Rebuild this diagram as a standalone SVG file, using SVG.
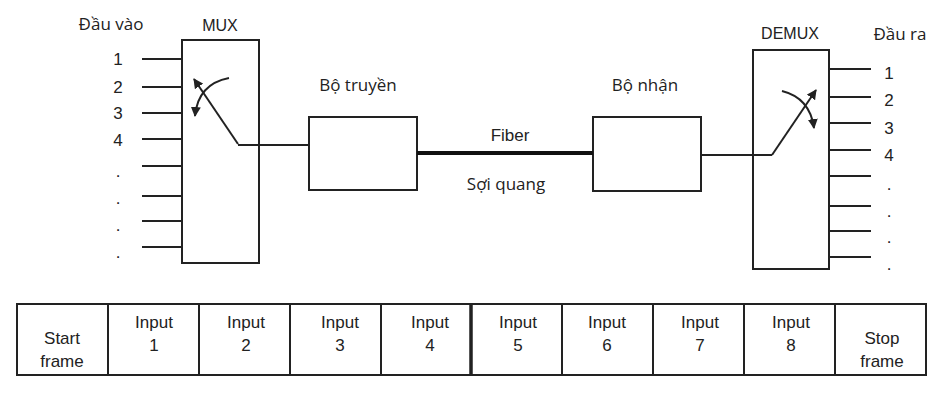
<svg xmlns="http://www.w3.org/2000/svg" width="944" height="395" viewBox="0 0 944 395">
<style>
.box{fill:#fff;stroke:#222;stroke-width:2}
.ln{fill:none;stroke:#222;stroke-width:2}
.lbl{font-family:"Open Sans","Noto Sans",sans-serif;font-size:17px;fill:#222;text-anchor:middle;dominant-baseline:central}
.num{font-family:"Liberation Sans",Arial,sans-serif;font-size:16px;fill:#222;text-anchor:middle;dominant-baseline:central}
.dig{font-family:"Liberation Sans",Arial,sans-serif;font-size:17px;fill:#222;text-anchor:middle;dominant-baseline:central}
.cell{font-family:"Liberation Sans",Arial,sans-serif;font-size:17px;fill:#222;text-anchor:middle;dominant-baseline:central}
</style>
<defs>
<marker id="ah" viewBox="0 0 10 10" refX="9" refY="5" markerWidth="5" markerHeight="5" orient="auto" markerUnits="strokeWidth">
<path d="M0,0 L10,5 L0,10 Z" fill="#222"/>
</marker>
</defs>
<rect width="944" height="395" fill="#fff"/>

<g id="mux">
<rect class="box" x="182" y="40" width="77" height="223"/>
<text class="num" x="220" y="25">MUX</text>
<text class="lbl" x="111" y="23">Đầu vào</text>
<path class="ln" d="M142,59H182M142,87H182M142,113H182M142,139H182M142,166H182M142,196H182M142,221H182M142,247H182"/>
<text class="dig" x="118" y="59">1</text>
<text class="dig" x="118" y="87">2</text>
<text class="dig" x="118" y="113">3</text>
<text class="dig" x="118" y="140">4</text>
<text class="dig" x="118" y="171">.</text>
<text class="dig" x="118" y="198">.</text>
<text class="dig" x="118" y="225">.</text>
<text class="dig" x="118" y="252">.</text>
<path class="ln" d="M238,144 L194,79" marker-end="url(#ah)"/>
<path class="ln" d="M229,78 Q198,84 195,116" marker-end="url(#ah)"/>
</g>

<g id="tx">
<rect class="box" x="309" y="117" width="108" height="73"/>
<text class="lbl" x="358" y="84">Bộ truyền</text>
</g>

<g id="rx">
<rect class="box" x="593" y="117" width="108" height="74"/>
<text class="lbl" x="645" y="84">Bộ nhận</text>
</g>

<g id="demux">
<rect class="box" x="753" y="50" width="76" height="219"/>
<text class="num" x="790" y="33">DEMUX</text>
<text class="lbl" x="900" y="33">Đầu ra</text>
<path class="ln" d="M829,69H871M829,97H871M829,123H871M829,150H871M829,176H871M829,206H871M829,231H871M829,257H871"/>
<text class="dig" x="889" y="73">1</text>
<text class="dig" x="889" y="100">2</text>
<text class="dig" x="889" y="128">3</text>
<text class="dig" x="889" y="155">4</text>
<text class="dig" x="889" y="184">.</text>
<text class="dig" x="889" y="211">.</text>
<text class="dig" x="889" y="237">.</text>
<text class="dig" x="889" y="264">.</text>
<path class="ln" d="M772,155 L816,90" marker-end="url(#ah)"/>
<path class="ln" d="M782,91 Q810,98 814,128" marker-end="url(#ah)"/>
</g>

<g id="connectors">
<path class="ln" d="M238,145H309"/>
<path fill="none" stroke="#111" stroke-width="4" d="M417,153H593"/>
<path class="ln" d="M701,155H772"/>
<text class="dig" x="510" y="135">Fiber</text>
<text class="lbl" x="506" y="183">Sợi quang</text>
</g>

<g id="frame">
<rect class="box" x="17" y="304" width="909" height="71"/>
<path class="ln" d="M108,304V375M199,304V375M290,304V375M381,304V375M562,304V375M653,304V375M744,304V375M835,304V375"/>
<path fill="none" stroke="#222" stroke-width="3.5" d="M471,304V375"/>
<text class="cell" x="62" y="338">Start</text><text class="cell" x="62" y="361">frame</text>
<text class="cell" x="154" y="322">Input</text><text class="cell" x="154" y="345">1</text>
<text class="cell" x="246" y="322">Input</text><text class="cell" x="246" y="345">2</text>
<text class="cell" x="340" y="322">Input</text><text class="cell" x="340" y="345">3</text>
<text class="cell" x="430" y="322">Input</text><text class="cell" x="430" y="345">4</text>
<text class="cell" x="518" y="322">Input</text><text class="cell" x="518" y="345">5</text>
<text class="cell" x="607" y="322">Input</text><text class="cell" x="607" y="345">6</text>
<text class="cell" x="700" y="322">Input</text><text class="cell" x="700" y="345">7</text>
<text class="cell" x="791" y="322">Input</text><text class="cell" x="791" y="345">8</text>
<text class="cell" x="882" y="338">Stop</text><text class="cell" x="882" y="361">frame</text>
</g>
</svg>
